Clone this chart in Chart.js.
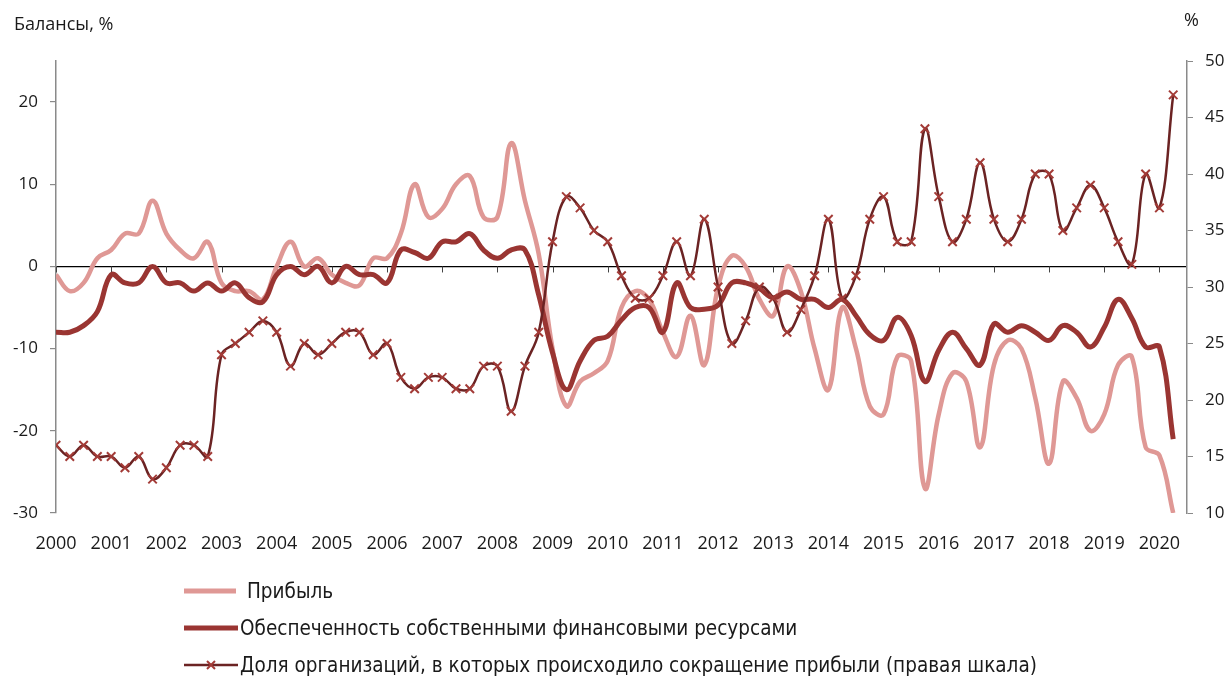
<!DOCTYPE html>
<html>
<head>
<meta charset="utf-8">
<script src="https://cdn.jsdelivr.net/npm/chart.js@4.4.1/dist/chart.umd.min.js"></script>
<style>
  body { margin: 0; background: #fff; }
  #wrap { position: relative; width: 1229px; height: 677px; overflow: hidden; }
  #chart { position: absolute; left: 0; top: 0; }
  .axis-title { position: absolute; font-family: 'Open Sans', sans-serif; font-size: 18px; color: #1a1a1a; }
  #legend { position: absolute; left: 184px; top: 572px; font-family: 'DejaVu Sans Condensed', sans-serif; font-size: 20.5px; color: #1a1a1a; }
  .item { display: flex; align-items: center; height: 37px; }
  .item svg { margin-right: 2px; }
</style>
</head>
<body>
<div id="wrap">
  <canvas id="chart" width="1229" height="677"></canvas>
  <div class="axis-title" style="left:14px; top:11px;">Балансы, %</div>
  <div class="axis-title" style="left:1184px; top:7px;">%</div>
  <div id="legend">
    <div class="item">
      <svg width="54" height="12"><line x1="0" y1="6" x2="52" y2="6" stroke="#df9895" stroke-width="5"/></svg>
      <span style="margin-left:7px">Прибыль</span>
    </div>
    <div class="item">
      <svg width="54" height="12"><line x1="0" y1="6" x2="54" y2="6" stroke="#9a3532" stroke-width="5"/></svg>
      <span>Обеспеченность собственными финансовыми ресурсами</span>
    </div>
    <div class="item">
      <svg width="54" height="14"><line x1="0" y1="7" x2="54" y2="7" stroke="#6b2323" stroke-width="2.5"/>
        <path d="M23 3 L31 11 M31 3 L23 11" stroke="#a33b37" stroke-width="2"/></svg>
      <span>Доля организаций, в которых происходило сокращение прибыли (правая шкала)</span>
    </div>
  </div>
</div>
<script>
// quarterly data, 2000 Q1 - 2020 Q2
const startYear = 2000;
const years = [2000, 2001, 2002, 2003, 2004, 2005, 2006, 2007, 2008, 2009, 2010,
               2011, 2012, 2013, 2014, 2015, 2016, 2017, 2018, 2019, 2020];

const profit = [
    -1, -3, -2, 1, 2, 4, 4, 8, 4, 2, 1, 3,
    -2, -3, -3, -4, 0, 3, 0, 1, -1, -2, -2.3, 1,
    1, 4, 10, 6, 7, 10, 11, 6, 6, 15, 8, 1.5,
    -10, -17, -14, -13, -11.5, -5, -3, -4, -8, -11, -6, -12,
    -2.5, 1.3, 0, -4, -6, 0, -3, -10, -15, -5, -10, -17,
    -18, -11, -11.5, -27, -18, -13, -14, -22, -12, -9, -10, -16,
    -24, -14, -16, -20, -18, -12, -11, -22, -23, -30
];

const ownFunds = [
    -8, -8, -7.2, -5.5, -1, -2, -2, 0, -2, -2, -3, -2,
    -3, -2, -3.8, -4.3, -1, 0, -1, 0, -2, 0, -1, -1,
    -2, 2, 1.7, 1, 3, 3, 4, 2, 1, 2, 2, -3.5,
    -10.5, -15, -11.5, -9, -8.5, -6.5, -5, -5, -8, -2, -5, -5.2,
    -4.7, -2, -2, -2.7, -3.8, -3.1, -4, -4, -5, -4, -6, -8.3,
    -9, -6.2, -8.4, -14, -10.2, -8, -10, -12, -7, -8, -7.2, -8,
    -9, -7.2, -8, -9.8, -7.4, -4, -6.3, -9.8, -9.8, -21
];

const profitDownShare = [
    16, 15, 16, 15, 15, 14, 15, 13, 14, 16, 16, 15,
    24, 25, 26, 27, 26, 23, 25, 24, 25, 26, 26, 24,
    25, 22, 21, 22, 22, 21, 21, 23, 23, 19, 23, 26,
    34, 38, 37, 35, 34, 31, 29, 29, 31, 34, 31, 36,
    30, 25, 27, 30, 29, 26, 28, 31, 36, 29, 31, 36,
    38, 34, 34, 44, 38, 34, 36, 41, 36, 34, 36, 40,
    40, 35, 37, 39, 37, 34, 32, 40, 37, 47
];

const toPoints = arr => arr.map((v, i) => ({ x: startYear + i / 4, y: v }));

// short year ticks on the zero line
const yearTicks = {
    id: 'yearTicks',
    beforeDatasetsDraw(chart) {
        const { ctx, scales } = chart;
        const y0 = scales.y.getPixelForValue(0);
        ctx.save();
        ctx.strokeStyle = '#444';
        ctx.lineWidth = 1;
        years.forEach(yr => {
            const px = Math.round(scales.x.getPixelForValue(yr)) + 0.5;
            ctx.beginPath();
            ctx.moveTo(px, y0);
            ctx.lineTo(px, y0 + 6);
            ctx.stroke();
        });
        ctx.restore();
    }
};

const tickFont = { family: "'Open Sans', sans-serif", size: 17 };

new Chart(document.getElementById('chart'), {
    type: 'line',
    data: {
        datasets: [
            {
                label: 'Доля организаций, в которых происходило сокращение прибыли (правая шкала)',
                data: toPoints(profitDownShare),
                yAxisID: 'y1',
                borderColor: '#6b2323',
                borderWidth: 2.5,
                tension: 0.4,
                pointStyle: 'crossRot',
                pointRadius: 6,
                pointBorderWidth: 2,
                pointBorderColor: '#a33b37',
                order: 0
            },
            {
                label: 'Обеспеченность собственными финансовыми ресурсами',
                data: toPoints(ownFunds),
                yAxisID: 'y',
                borderColor: '#9a3532',
                borderWidth: 5,
                tension: 0.4,
                pointRadius: 0,
                order: 1
            },
            {
                label: 'Прибыль',
                data: toPoints(profit),
                yAxisID: 'y',
                borderColor: '#df9895',
                borderWidth: 4.5,
                tension: 0.4,
                pointRadius: 0,
                order: 2
            }
        ]
    },
    options: {
        responsive: false,
        animation: false,
        devicePixelRatio: 1,
        layout: { padding: { top: 61, bottom: 124, left: 0, right: 0 } },
        plugins: {
            legend: { display: false },
            tooltip: { enabled: false }
        },
        scales: {
            x: {
                type: 'linear',
                min: 2000,
                max: 2020.5,
                afterFit: s => { s.height = 40; },
                grid: { display: false },
                border: { display: false },
                ticks: {
                    stepSize: 1,
                    includeBounds: false,
                    autoSkip: false,
                    maxRotation: 0,
                    padding: 12,
                    color: '#1a1a1a',
                    font: { family: "'Open Sans', sans-serif", size: 18 },
                    callback: v => String(v)
                }
            },
            y: {
                position: 'left',
                min: -30,
                max: 25,
                afterFit: s => { s.width = 56; },
                border: { color: '#8a8a8a', width: 1.5 },
                grid: {
                    color: c => (c.tick && c.tick.value === 0) ? '#000' : 'rgba(0,0,0,0)',
                    lineWidth: 1.2,
                    tickColor: '#8a8a8a',
                    tickLength: 6
                },
                ticks: {
                    stepSize: 10,
                    includeBounds: false,
                    padding: 12,
                    color: '#1a1a1a',
                    font: tickFont
                }
            },
            y1: {
                position: 'right',
                min: 10,
                max: 50,
                afterFit: s => { s.width = 42; },
                border: { color: '#8a8a8a', width: 1.5 },
                grid: {
                    drawOnChartArea: false,
                    tickColor: '#8a8a8a',
                    tickLength: 6
                },
                ticks: {
                    stepSize: 5,
                    padding: 12,
                    color: '#1a1a1a',
                    font: tickFont
                }
            }
        }
    },
    plugins: [yearTicks]
});
</script>
</body>
</html>
